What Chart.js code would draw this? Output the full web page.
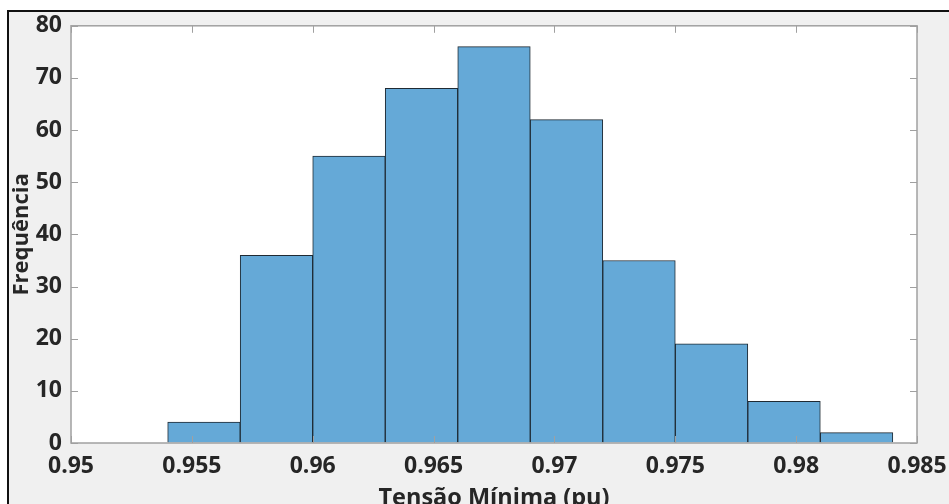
<!DOCTYPE html>
<html>
<head>
<meta charset="utf-8">
<script src="https://cdn.jsdelivr.net/npm/chart.js@4.4.0/dist/chart.umd.min.js"></script>
<style>
  html, body { margin: 0; padding: 0; background: #fff; overflow: hidden; width: 949px; height: 504px; }
  #frame {
    position: absolute; left: 7px; top: 10px;
    border-left: 2px solid #111; border-top: 2px solid #111;
    background: #f0f0f0; width: 940px; height: 520px;
  }
  #hist { display: block; }
</style>
</head>
<body>
<div id="frame"><canvas id="hist" width="940" height="520"></canvas></div>
<script>
// histogram bins (left edges) and counts
var binStart = 0.954;
var binWidth = 0.003;
var counts = [4, 36, 55, 68, 76, 62, 35, 19, 8, 2];
var xTicks = [0.95, 0.955, 0.96, 0.965, 0.97, 0.975, 0.98, 0.985];
var yTicks = [0, 10, 20, 30, 40, 50, 60, 70, 80];

var points = [];
for (var i = 0; i < counts.length; i++) {
  points.push({ x: binStart + binWidth * (i + 0.5), y: counts[i] });
}

var tickFont = { family: "'Open Sans', sans-serif", size: 23, weight: "bold" };

// invisible tick marks, only used to space the labels off the box
var hiddenGrid = function(len) {
  return { display: true, drawOnChartArea: false, drawTicks: true, tickLength: len, tickColor: "rgba(0,0,0,0)" };
};

// axes box with inward MATLAB-style ticks
var boxTicks = {
  id: "boxTicks",
  afterDatasetsDraw: function(chart) {
    var ctx = chart.ctx, a = chart.chartArea;
    var xs = chart.scales.x, ys = chart.scales.y;
    var len = 7;
    ctx.save();
    ctx.strokeStyle = "#a0a0a0";
    ctx.lineWidth = 1;
    ctx.beginPath();
    xTicks.forEach(function(v) {
      var px = Math.round(xs.getPixelForValue(v)) + 0.5;
      ctx.moveTo(px, a.bottom); ctx.lineTo(px, a.bottom - len);
      ctx.moveTo(px, a.top); ctx.lineTo(px, a.top + len);
    });
    yTicks.forEach(function(v) {
      var py = Math.round(ys.getPixelForValue(v)) + 0.5;
      ctx.moveTo(a.left, py); ctx.lineTo(a.left + len, py);
      ctx.moveTo(a.right, py); ctx.lineTo(a.right - len, py);
    });
    ctx.stroke();
    ctx.lineWidth = 1.5;
    ctx.strokeRect(a.left, a.top, a.right - a.left, a.bottom - a.top);
    ctx.restore();
  }
};

var plotBg = {
  id: "plotBg",
  beforeDatasetsDraw: function(chart) {
    var ctx = chart.ctx, a = chart.chartArea;
    ctx.save();
    ctx.fillStyle = "#ffffff";
    ctx.fillRect(a.left, a.top, a.right - a.left, a.bottom - a.top);
    ctx.restore();
  }
};

new Chart(document.getElementById("hist"), {
  type: "bar",
  data: {
    datasets: [{
      data: points,
      backgroundColor: "#65a9d7",
      borderColor: "#1f2a33",
      borderWidth: 1,
      barPercentage: 1,
      categoryPercentage: 1,
      grouped: false
    }]
  },
  options: {
    responsive: false,
    animation: false,
    layout: { padding: { left: 0, right: 32, top: 0, bottom: 0 } },
    plugins: { legend: { display: false }, tooltip: { enabled: false } },
    scales: {
      x: {
        type: "linear",
        min: 0.95, max: 0.985,
        offset: false,
        grid: hiddenGrid(10),
        border: { display: false },
        afterBuildTicks: function(scale) {
          scale.ticks = xTicks.map(function(v) { return { value: v }; });
        },
        afterFit: function(scale) { scale.height = 89; },
        ticks: {
          color: "#262626", font: tickFont, padding: 0, maxRotation: 0,
          callback: function(v) { return String(+v.toFixed(3)); }
        },
        title: {
          display: true, text: "Tensão Mínima (pu)", color: "#262626",
          font: { family: "'Open Sans', sans-serif", size: 23.5, weight: "bold" },
          padding: { top: 0, bottom: 20 }
        }
      },
      y: {
        min: 0, max: 80,
        grid: hiddenGrid(9),
        border: { display: false },
        afterBuildTicks: function(scale) {
          scale.ticks = yTicks.map(function(v) { return { value: v }; });
        },
        afterFit: function(scale) { scale.width = 62; },
        ticks: { color: "#262626", font: tickFont, padding: 0 },
        title: {
          display: true, text: "Frequência", color: "#262626",
          font: { family: "'Open Sans', sans-serif", size: 22, weight: "bold" },
          padding: { top: 0, bottom: 0 }
        }
      }
    }
  },
  plugins: [plotBg, boxTicks]
});
</script>
</body>
</html>
